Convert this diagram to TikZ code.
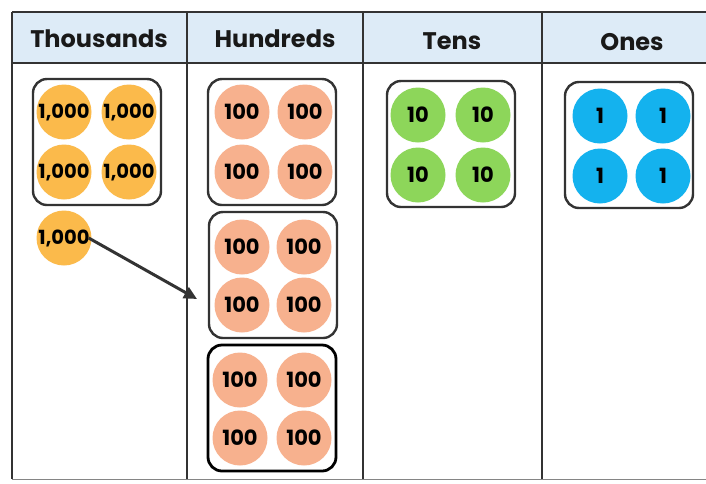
\documentclass[tikz,border=0pt]{standalone}
\usepackage{fontspec}
\setmainfont{Poppins}
\usetikzlibrary{arrows.meta}
\definecolor{hdr}{HTML}{DDEBF7}
\definecolor{grid}{HTML}{333333}
\definecolor{thou}{HTML}{FBBA4B}
\definecolor{hund}{HTML}{F7B18E}
\definecolor{tens}{HTML}{8DD65A}
\definecolor{ones}{HTML}{14B2EE}
\tikzset{
  disc/.style={circle,minimum size=55pt,inner sep=0pt,font=\fontsize{21}{21}\selectfont\bfseries,text=black},
  dthou/.style={disc,fill=thou,font=\fontsize{19.5}{20}\selectfont\bfseries},
  dhund/.style={disc,fill=hund},
  dtens/.style={disc,fill=tens},
  dones/.style={disc,fill=ones},
  groupbox/.style={draw=grid,line width=2.4pt,rounded corners=14pt,minimum width=128pt,minimum height=126pt,inner sep=0pt},
  hdrtext/.style={font=\fontsize{24}{24}\selectfont\bfseries,text=black!90},
}
\begin{document}
\begin{tikzpicture}[x=1pt,y=-1pt]
\clip (0,0) rectangle (706,483);
\fill[white] (0,0) rectangle (706,483);
% header
\fill[hdr] (12,12) rectangle (720,63);
\draw[grid,line width=2pt] (12,12) -- (720,12);
\draw[grid,line width=2pt] (12,63) -- (720,63);
\draw[grid,line width=2pt] (12,12) -- (12,479);
\draw[grid,line width=2pt] (187,12) -- (187,479);
\draw[grid,line width=2pt] (363,12) -- (363,479);
\draw[grid,line width=2pt] (542,12) -- (542,479);
\draw[grid!60,line width=1pt] (12,479) -- (720,479);
\node[hdrtext] (hT) at (99,39) {Thousands};
\node[hdrtext] (hH) at (275,39) {Hundreds};
\node[hdrtext] (hTe) at (452,41) {Tens};
\node[hdrtext] (hO) at (632,42) {Ones};
% group boxes
\node[groupbox] (gT) at (97,142) {};
\node[groupbox] (gH1) at (272,142) {};
\node[groupbox] (gH2) at (273,275) {};
\node[groupbox,draw=black,line width=2.8pt] (gH3) at (272,408) {};
\node[groupbox] (gTe) at (451,144) {};
\node[groupbox] (gO) at (629,145) {};
% thousands
\node[dthou] (t1) at (64,112) {1,000};
\node[dthou] (t2) at (129,112) {1,000};
\node[dthou] (t3) at (64,172) {1,000};
\node[dthou] (t4) at (129,172) {1,000};
\node[dthou] (t5) at (64,238) {1,000};
% hundreds
\node[dhund] (a1) at (242,112) {100};
\node[dhund] (a2) at (305,112) {100};
\node[dhund] (a3) at (242,172) {100};
\node[dhund] (a4) at (305,172) {100};
\node[dhund] (b1) at (242,247) {100};
\node[dhund] (b2) at (304,247) {100};
\node[dhund] (b3) at (242,305) {100};
\node[dhund] (b4) at (304,305) {100};
\node[dhund] (c1) at (240,380) {100};
\node[dhund] (c2) at (304,380) {100};
\node[dhund] (c3) at (240,438) {100};
\node[dhund] (c4) at (304,438) {100};
% tens
\node[dtens] (e1) at (418,115) {10};
\node[dtens] (e2) at (483,115) {10};
\node[dtens] (e3) at (418,175) {10};
\node[dtens] (e4) at (483,175) {10};
% ones
\node[dones] (o1) at (600,116) {1};
\node[dones] (o2) at (663,116) {1};
\node[dones] (o3) at (600,176) {1};
\node[dones] (o4) at (663,176) {1};
% arrow
\coordinate (tip) at (197,299);
\draw[grid,line width=3pt,-{Triangle[length=13pt,width=12pt]}] ([xshift=-3pt]t5.east) -- (tip);
\end{tikzpicture}
\end{document}
